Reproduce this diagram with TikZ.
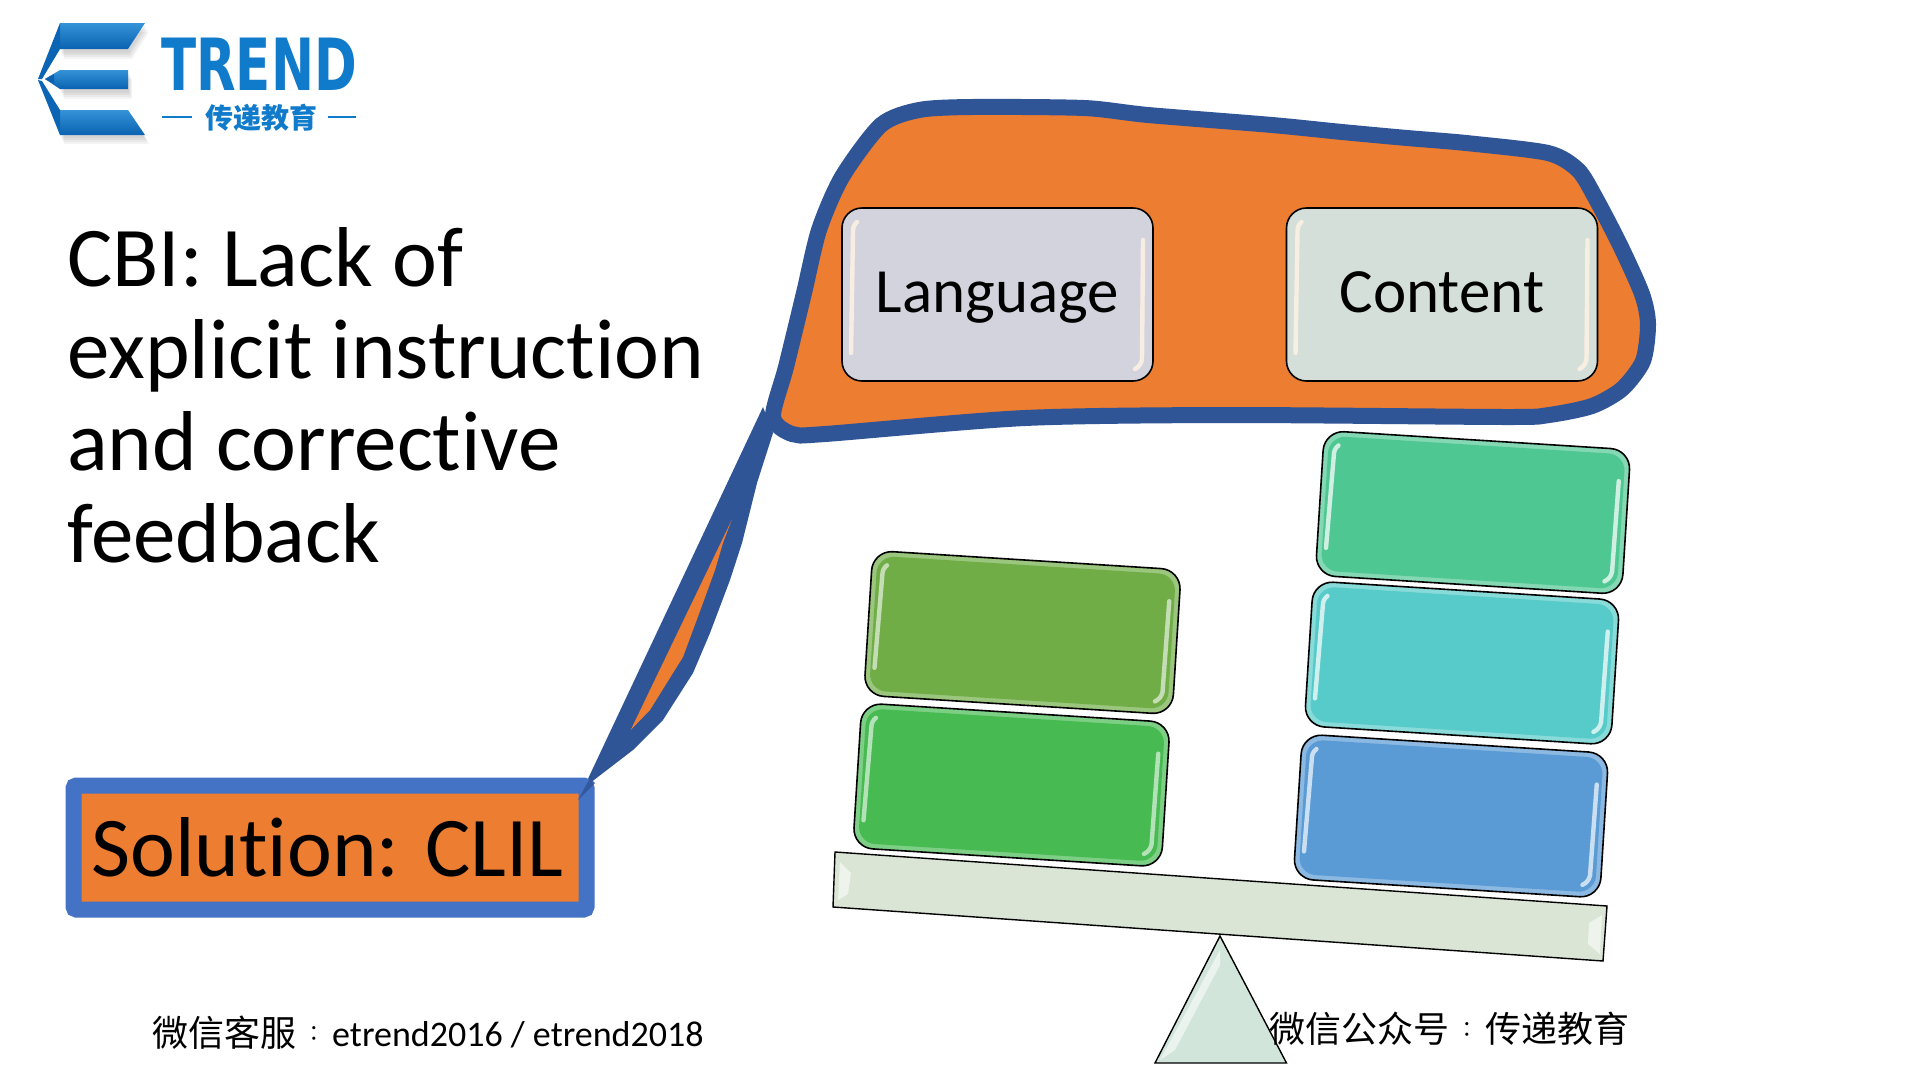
\documentclass[tikz,border=0pt]{standalone}
\usepackage{graphicx}
\usepackage{fontspec}
\setmainfont[Ligatures=CommonOff]{Carlito}
\newfontfamily\cjk{Noto Sans CJK SC}
\newfontfamily\cjkcolon{Noto Sans CJK TC}
\newfontfamily\logofont{DejaVu Sans}
\newcommand{\thincolon}{\makebox[1em]{\raisebox{.15em}{\scalebox{.6}{\cjkcolon ：}}}}
\definecolor{calloutblue}{HTML}{2F5597}
\definecolor{boxblue}{HTML}{4472C4}
\definecolor{calloutorange}{HTML}{ED7D31}
\definecolor{logoblue}{HTML}{1180D2}
\definecolor{logodark}{HTML}{0A62B0}
\definecolor{langfill}{HTML}{D3D3DD}
\definecolor{contfill}{HTML}{D3DFD8}
\definecolor{slabfill}{HTML}{DAE5D6}
\definecolor{trifill}{HTML}{D2E5DB}
\definecolor{olivefill}{HTML}{70AD47}
\definecolor{greenfill}{HTML}{47BA52}
\definecolor{bluefill}{HTML}{5B9BD5}
\definecolor{cyanfill}{HTML}{56CBC9}
\definecolor{tealfill}{HTML}{4FC792}
\tikzset{
  gelshape/.style={draw=black,line width=1.6pt,rounded corners=20pt,inner sep=0pt,anchor=center},
  gelshine/.style={line width=4.4pt,line cap=round,opacity=.85},
  slabshape/.style={draw=black,line width=1.4pt,line join=miter},
  bevel/.style={fill=white,opacity=.55},
  bigtext/.style={font=\fontsize{85}{92}\selectfont,align=left,anchor=north west,inner sep=0pt},
  boxtext/.style={font=\fontsize{63}{70}\selectfont,text height=40pt,text depth=0pt,inner sep=0pt,yshift=2pt},
  footertext/.style={font=\fontsize{36}{40}\selectfont,anchor=west,inner sep=0pt},
  logoshape/.style={top color=logoblue!85!white,bottom color=logodark},
  logoshadow/.style={fill=black,opacity=.045},
}
% name, cx, cy, rotation, fill colour, rim colour, shine colour, width, height
\newcommand{\gelbox}[9]{%
  \node[gelshape,rotate=#4,fill=#6,minimum width=#8pt,minimum height=#9pt] (#1) at (#2,#3) {};
  \begin{scope}[shift={(#2,#3)},rotate=#4]
    \fill[#5,rounded corners=17pt] (-#8/2+5,-#9/2+5) rectangle (#8/2-5,#9/2-5);
    \draw[gelshine,color=#7] (-#8/2+15,-#9/2+14) to[bend right=25] (-#8/2+11,-#9/2+24) -- (-#8/2+9,#9/2-28);
    \draw[gelshine,color=#7] (#8/2-10,-#9/2+32) -- (#8/2-11,#9/2-22) to[bend left=25] (#8/2-18,#9/2-12);
  \end{scope}
}
\newcommand{\logoshadowpass}[2]{%
  \begin{scope}[shift={(#1,#2)}]
    \fill[logoshadow] (60,23) -- (145,23) -- (128,50) -- (60,50) -- cycle;
    \fill[logoshadow] (60,70) -- (128,70) -- (128,90) -- (60,90) -- cycle;
    \fill[logoshadow] (60,110) -- (128,110) -- (145,135) -- (60,135) -- cycle;
  \end{scope}
}
\begin{document}
\begin{tikzpicture}[x=1pt,y=-1pt]
\useasboundingbox (0,0) rectangle (1920,1080);
\fill[white] (0,0) rectangle (1920,1080);

% logo
\logoshadowpass{1}{3}\logoshadowpass{2}{5}\logoshadowpass{3}{7}\logoshadowpass{4}{9}
\path[logoshape] (60,23) -- (145,23) -- (128,49) -- (60,49) -- cycle;
\path[logoshape] (60,70) -- (128,70) -- (128,89) -- (60,89) -- (45,79) -- cycle;
\path[logoshape] (60,110) -- (128,110) -- (145,135) -- (60,135) -- cycle;
\fill[logodark!90!logoblue] (60,23) -- (60,49) -- (42,79) -- (38,79) -- cycle;
\fill[logodark!90!logoblue] (60,135) -- (60,110) -- (42,81) -- (38,80) -- cycle;
\fill[logodark] (45,79) -- (54,74) -- (54,84) -- cycle;
\node[inner sep=0pt,text=logoblue!80!logodark,font=\logofont\bfseries\fontsize{72}{74}\selectfont,xscale=.715,anchor=base,text height=53pt,text depth=0pt] (logotext) at (259,90) {TREND};
\node[inner sep=0pt,text=logoblue!80!logodark,font=\cjk\bfseries\fontsize{28}{30}\selectfont,anchor=center] (logosub) at (261,118) {传递教育};
\coordinate (subla) at (162,117); \coordinate (sublb) at (192,117);
\coordinate (subra) at (328,117); \coordinate (subrb) at (356,117);
\draw[logoblue!80!logodark,line width=2pt] (subla) -- (sublb);
\draw[logoblue!80!logodark,line width=2pt] (subra) -- (subrb);

% callout spike
\fill[calloutblue] (763,407) -- (578,800) -- (590,783) -- (633,750) -- (663,720) -- (693,673) -- (710,633) -- (730,580) -- (742,543) -- (757,483) -- (773,433) -- cycle;

% solution box
\node[draw=boxblue,fill=calloutorange,line width=16pt,rounded corners=3pt,minimum width=513pt,minimum height=124pt,inner sep=0pt,font=\fontsize{85}{88}\selectfont] (solution) at (330,847.5) {Solution: CLIL\hspace*{5pt}};
\fill[calloutblue,opacity=.85] (590,778) -- (578,800) -- (595,783) -- cycle;
\fill[calloutorange] (731.7,520) -- (723,543) -- (715,570) -- (703,603) -- (693,630) -- (683,657) -- (673,673) -- (650,710) -- (630.7,730) -- cycle;

% callout body
\draw[calloutblue,fill=calloutorange,line width=16pt,line join=round] plot[smooth cycle,tension=.45] coordinates {
  (773,417) (786,367) (804,293) (819,230) (842,177) (881,125) (919,110) (972,107)
  (1084,108) (1148,115) (1272,125) (1342,132) (1407,138) (1466,143) (1548,153)
  (1578,170) (1595,197) (1620,245) (1642,294) (1648,324) (1643,361) (1622,389)
  (1592,406) (1549,415) (1507,417) (1231,415) (1025,418) (825,434) (792,434) };

\node[bigtext] (headline) at (67,227) {CBI: Lack of\\explicit instruction\\and corrective\\feedback};

% language and content
\gelbox{language}{997.5}{294.5}{0}{langfill}{langfill}{white!90!orange}{311}{173}
\gelbox{content}{1442}{294.5}{0}{contfill}{contfill}{white!90!orange}{311}{173}

% seesaw
\draw[slabshape,fill=slabfill] (835,852) -- (1607,906) -- (1603,961) -- (833,907) -- cycle;
\fill[bevel] (840,862) -- (851,873) -- (848,894) -- (838,900) -- cycle;
\fill[bevel] (1602,915) -- (1589,923) -- (1588,944) -- (1600,954) -- cycle;
\draw[slabshape,fill=trifill] (1220,936) -- (1286.5,1063) -- (1155,1063) -- cycle;
\fill[bevel] (1220,950) -- (1160,1060) -- (1175,1050) -- (1220,965) -- cycle;

% stacked blocks
\gelbox{olive}{1022.5}{632.5}{-3.6}{olivefill}{olivefill!70!white}{white!70!olivefill}{309}{145}
\gelbox{green}{1011.5}{785}{-3.6}{greenfill}{greenfill!70!white}{white!70!greenfill}{309}{145}
\gelbox{bluebox}{1451}{816}{-3.6}{bluefill}{bluefill!70!white}{white!80!bluefill}{307}{145}
\gelbox{cyanbox}{1462}{663}{-3.6}{cyanfill}{cyanfill!70!white}{white!85!cyanfill}{307}{145}
\gelbox{teal}{1473}{512.5}{-3.6}{tealfill}{tealfill!70!white}{white!85!tealfill}{307}{145}

\node[boxtext] (languagetext) at (language) {Language};
\node[boxtext] (contenttext) at (content) {Content};

% footers
\node[footertext] (wechatservice) at (152,1033) {\cjk 微信客服\thincolon\rmfamily etrend2016 / etrend2018};
\node[footertext] (wechatpublic) at (1269,1029) {\cjk 微信公众号\thincolon 传递教育};
\end{tikzpicture}
\end{document}
